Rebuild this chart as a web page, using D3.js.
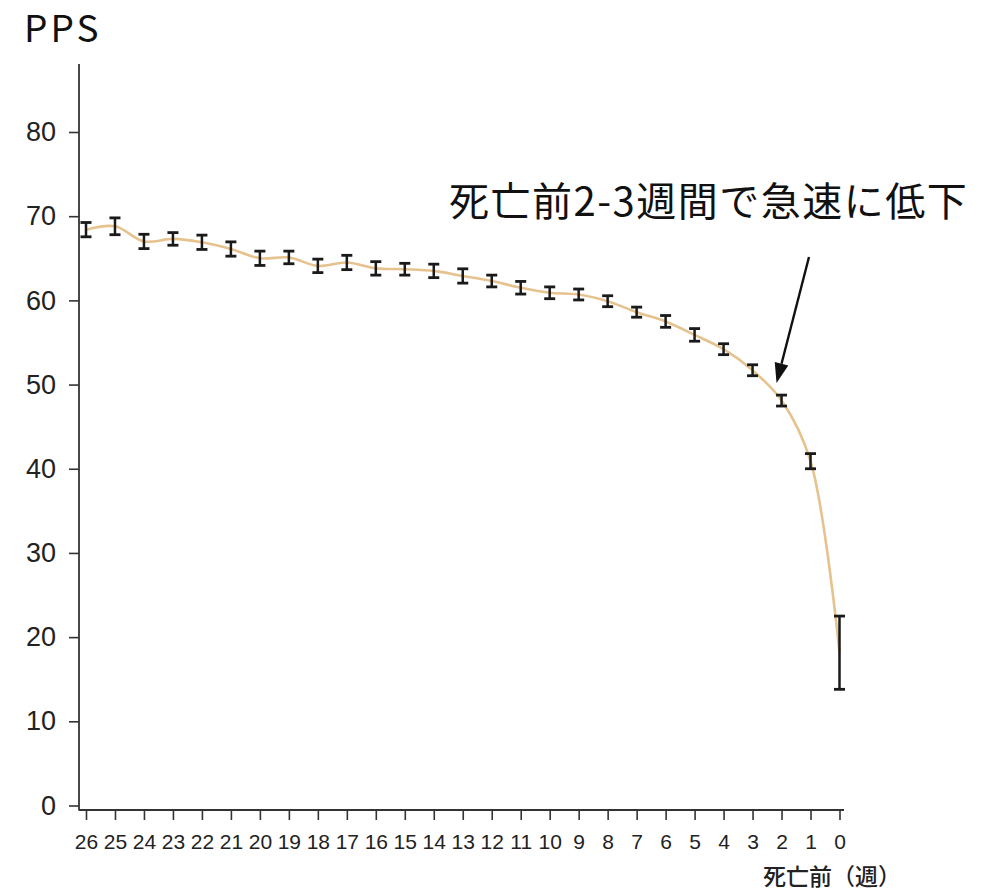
<!DOCTYPE html>
<html>
<head>
<meta charset="utf-8">
<script src="https://cdn.jsdelivr.net/npm/d3@7"></script>
<style>
  html, body { margin: 0; padding: 0; background: #ffffff; }
  svg { display: block; }
</style>
</head>
<body>
<svg id="chart" width="993" height="894"></svg>
<script>
// ---- data ----
const weeks = [26,25,24,23,22,21,20,19,18,17,16,15,14,13,12,11,10,9,8,7,6,5,4,3,2,1,0];
const means = [68.4,68.8,67.0,67.3,66.9,66.1,65.0,65.1,64.1,64.5,63.8,63.7,63.5,62.9,62.3,61.5,60.9,60.7,59.9,58.6,57.5,55.9,54.2,51.7,48.1,40.9,18.2];
const errLow = [0.85,1.0,0.85,0.75,0.85,0.85,0.85,0.75,0.8,0.85,0.8,0.7,0.8,0.85,0.7,0.75,0.7,0.65,0.65,0.6,0.7,0.75,0.65,0.65,0.65,0.9,4.4];
const errHigh = [0.85,1.0,0.85,0.75,0.85,0.85,0.85,0.75,0.8,0.85,0.8,0.7,0.8,0.85,0.7,0.75,0.7,0.65,0.65,0.6,0.7,0.75,0.65,0.65,0.65,0.9,4.3];
const yTicks = [0,10,20,30,40,50,60,70,80];
const xTicks = weeks;
const titleText = "PPS";
const xAxisLabel = "死亡前（週）";
const annotationText = "死亡前2-3週間で急速に低下";
const annotatedWeek = 2;

// ---- layout ----
const svg = d3.select("#chart");
const x = d3.scaleLinear().domain([26, 0]).range([86, 839.5]);
const y = d3.scaleLinear().domain([0, 80]).range([805.5, 132]);

const data = weeks.map((w, i) => ({ w, m: means[i], lo: means[i] - errLow[i], hi: means[i] + errHigh[i] }));

// title
svg.append("text")
  .attr("x", 24).attr("y", 42)
  .attr("font-family", "'Noto Sans CJK JP', 'Noto Sans', sans-serif")
  .attr("font-size", 37)
  .attr("letter-spacing", 3)
  .attr("fill", "#111")
  .text(titleText);

// Y axis
const yAxis = d3.axisLeft(y).tickValues(yTicks).tickSize(10).tickPadding(13);
const gy = svg.append("g").attr("transform", "translate(79,0)").call(yAxis);
gy.select(".domain").remove();
gy.selectAll(".tick line").attr("stroke", "#333").attr("stroke-width", 1.6);
gy.selectAll(".tick text")
  .attr("font-family", "'Liberation Sans', Arial, sans-serif")
  .attr("font-size", 27)
  .attr("fill", "#222");
svg.append("line")
  .attr("x1", 79).attr("x2", 79).attr("y1", 64).attr("y2", 810.5)
  .attr("stroke", "#333").attr("stroke-width", 1.8);

// X axis
const xAxis = d3.axisBottom(x).tickValues(xTicks).tickSize(10).tickPadding(14).tickFormat(d3.format("d"));
const gx = svg.append("g").attr("transform", "translate(0,810)").call(xAxis);
gx.select(".domain").remove();
gx.selectAll(".tick line").attr("stroke", "#333").attr("stroke-width", 1.6);
gx.selectAll(".tick text")
  .attr("font-family", "'Liberation Sans', Arial, sans-serif")
  .attr("font-size", 21)
  .attr("fill", "#222");
svg.append("line")
  .attr("x1", 79).attr("x2", 844).attr("y1", 810).attr("y2", 810)
  .attr("stroke", "#333").attr("stroke-width", 1.8);

// x axis label
svg.append("text")
  .attr("x", 763).attr("y", 885)
  .attr("font-family", "'Noto Sans CJK JP', sans-serif")
  .attr("font-weight", 500)
  .attr("font-size", 23)
  .attr("fill", "#222")
  .text(xAxisLabel);

// line
const line = d3.line().x(d => x(d.w)).y(d => y(d.m)).curve(d3.curveCatmullRom.alpha(0.5));
svg.append("path")
  .datum(data.slice().sort((a, b) => x(a.w) - x(b.w)))
  .attr("d", line)
  .attr("fill", "none")
  .attr("stroke", "#e6c28e")
  .attr("stroke-width", 2.6);

// error bars
const capW = 11;
const eb = svg.append("g").selectAll("g").data(data).join("g");
eb.append("line")
  .attr("x1", d => x(d.w)).attr("x2", d => x(d.w))
  .attr("y1", d => y(d.hi)).attr("y2", d => y(d.lo))
  .attr("stroke", "#1a1a1a").attr("stroke-width", 2.5);
eb.append("line")
  .attr("x1", d => x(d.w) - capW / 2).attr("x2", d => x(d.w) + capW / 2)
  .attr("y1", d => y(d.hi)).attr("y2", d => y(d.hi))
  .attr("stroke", "#1a1a1a").attr("stroke-width", 2.8);
eb.append("line")
  .attr("x1", d => x(d.w) - capW / 2).attr("x2", d => x(d.w) + capW / 2)
  .attr("y1", d => y(d.lo)).attr("y2", d => y(d.lo))
  .attr("stroke", "#1a1a1a").attr("stroke-width", 2.8);

// annotation
svg.append("text")
  .attr("x", 449).attr("y", 216)
  .attr("font-family", "'Noto Sans CJK JP', sans-serif")
  .attr("font-size", 40)
  .attr("letter-spacing", 1.5)
  .attr("fill", "#111")
  .text(annotationText);

// arrow
const target = data.find(d => d.w === annotatedWeek);
const tipX = x(target.w) - 5, tipY = y(target.hi) - 12;
const startX = 809, startY = 257;
const ang = Math.atan2(tipY - startY, tipX - startX);
const headL = 20, headW = 7;
const bx = tipX - headL * Math.cos(ang), by = tipY - headL * Math.sin(ang);
svg.append("line")
  .attr("x1", startX).attr("y1", startY).attr("x2", bx).attr("y2", by)
  .attr("stroke", "#111").attr("stroke-width", 2.4);
svg.append("path")
  .attr("d", `M${tipX},${tipY} L${bx + headW * Math.sin(ang)},${by - headW * Math.cos(ang)} L${bx - headW * Math.sin(ang)},${by + headW * Math.cos(ang)} Z`)
  .attr("fill", "#111");
</script>
</body>
</html>
